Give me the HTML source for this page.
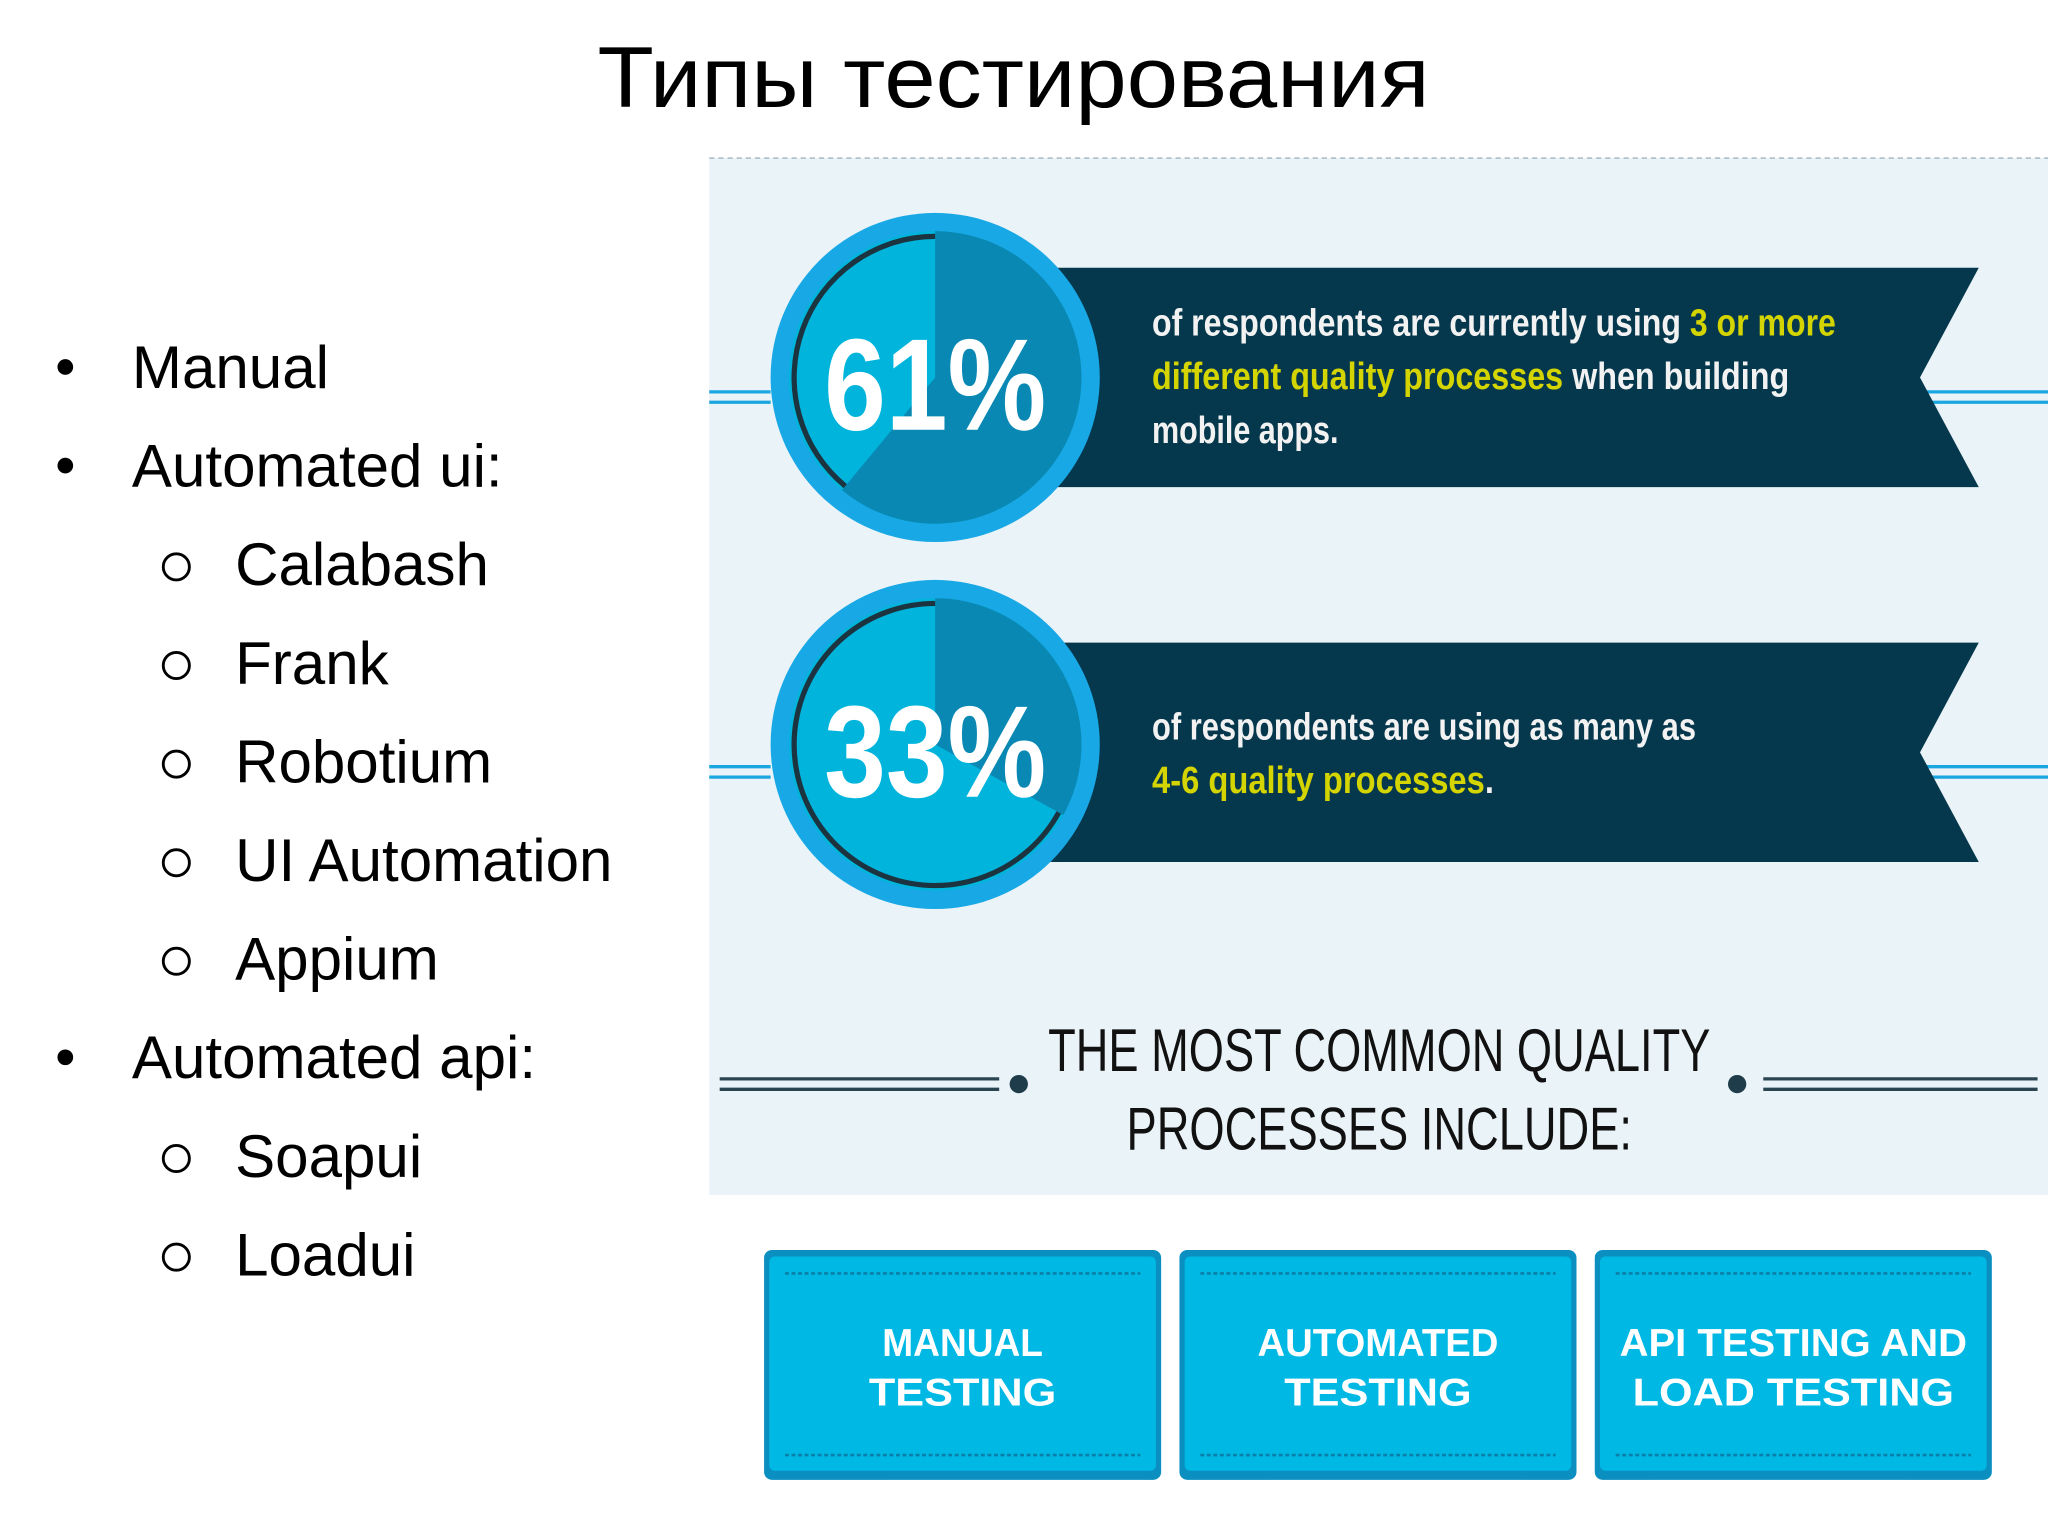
<!DOCTYPE html>
<html><head><meta charset="utf-8"><style>
html,body{margin:0;padding:0;background:#fff;}
svg{display:block;}
</style></head><body>
<svg id="s" width="2048" height="1536" viewBox="0 0 1568 1176" xmlns="http://www.w3.org/2000/svg" font-family="'Liberation Sans', sans-serif">
<rect width="1568" height="1176" fill="#fff"/>
<text x="776" y="82" font-size="66" text-anchor="middle" textLength="637" lengthAdjust="spacingAndGlyphs" fill="#000">Типы тестирования</text>

<g id="bullets" fill="#000" font-size="46"></g>

<rect x="543" y="121" width="1025" height="794" fill="#eaf3f8"/>
<line x1="543" y1="121" x2="1568" y2="121" stroke="#9fb3bf" stroke-width="1" stroke-dasharray="4 3"/>

<g id="stats"></g>

<g>
<line x1="551" y1="826" x2="765" y2="826" stroke="#2a4452" stroke-width="2.5"/>
<line x1="551" y1="834" x2="765" y2="834" stroke="#2a4452" stroke-width="2.5"/>
<line x1="1350" y1="826" x2="1560" y2="826" stroke="#2a4452" stroke-width="2.5"/>
<line x1="1350" y1="834" x2="1560" y2="834" stroke="#2a4452" stroke-width="2.5"/>
<circle cx="780" cy="830" r="7" fill="#1f3c4b"/>
<circle cx="1330" cy="830" r="7" fill="#1f3c4b"/>
<text x="1056" y="820" font-size="46" text-anchor="middle" textLength="507" lengthAdjust="spacingAndGlyphs" fill="#111">THE MOST COMMON QUALITY</text>
<text x="1056" y="880" font-size="46" text-anchor="middle" textLength="387" lengthAdjust="spacingAndGlyphs" fill="#111">PROCESSES INCLUDE:</text>
</g>

<g id="boxes"></g>

<script>
const bulletItems = ["Manual","Automated ui:","Calabash","Frank","Robotium","UI Automation","Appium","Automated api:","Soapui","Loadui"];
const bulletLevels = [0,0,1,1,1,1,1,0,1,1];
const statValues = [61, 33];
const statLines = [
  [[["of respondents are currently using ",0],["3 or more",1]],[["different quality processes",1],[" when building",0]],[["mobile apps.",0]]],
  [[["of respondents are using as many as",0]],[["4-6 quality processes",1],[".",0]]]
];
const boxLabels = [["MANUAL","TESTING"],["AUTOMATED","TESTING"],["API TESTING AND","LOAD TESTING"]];
const NS="http://www.w3.org/2000/svg";
function mk(tag,attrs,parent){const e=document.createElementNS(NS,tag);for(const k in attrs)e.setAttribute(k,attrs[k]);parent.appendChild(e);return e;}

const bg=document.getElementById('bullets');
bulletItems.forEach((t,i)=>{
  const y=297+i*75.5;
  if(bulletLevels[i]===0){
    const d=mk('circle',{cx:50,cy:y-16,r:6,fill:'#000'},bg);
    
    
    const tx=mk('text',{x:101,y:y},bg);tx.textContent=t;
    
    
  } else {
    const d=mk('circle',{cx:135,cy:y-14,r:10,fill:'none',stroke:'#000','stroke-width':2.2},bg);
    
    
    const tx=mk('text',{x:180,y:y},bg);tx.textContent=t;
    
    
  }
});

const sg=document.getElementById('stats');
const cys=[289,570];
const ribShift=[0,6];
statValues.forEach((v,i)=>{
  const cy=cys[i], cx=716, ry=cy+ribShift[i];
  const g=mk('g',{},sg);
  
  
  [[543,590],[1475,1568]].forEach(([a,b])=>{
    mk('line',{x1:a,y1:ry+11,x2:b,y2:ry+11,stroke:'#1aa6e0','stroke-width':2.5},g);
    mk('line',{x1:a,y1:ry+19,x2:b,y2:ry+19,stroke:'#1aa6e0','stroke-width':2.5},g);
  });
  const rib=mk('polygon',{points:`790,${ry-84} 1515,${ry-84} 1470,${ry} 1515,${ry+84} 790,${ry+84}`,fill:'#06384d'},g);
  
  
  mk('circle',{cx:cx,cy:cy,r:126,fill:'#19a8e6'},g);
  mk('circle',{cx:cx,cy:cy,r:112,fill:'#00b4dc'},g);
  const r=112, a=v/100*2*Math.PI;
  const ex=cx+r*Math.sin(a), ey=cy-r*Math.cos(a);
  const w=mk('path',{d:`M${cx},${cy} L${cx},${cy-r} A${r},${r} 0 ${a>Math.PI?1:0} 1 ${ex},${ey} Z`,fill:'#0a88b4'},g);
  
  
  const rr=108, ex2=cx+rr*Math.sin(a), ey2=cy-rr*Math.cos(a);
  mk('path',{d:`M${ex2},${ey2} A${rr},${rr} 0 ${a>Math.PI?0:1} 1 ${cx},${cy-rr}`,fill:'none',stroke:'#1c3440','stroke-width':4},g);
  const pt=mk('text',{x:cx,y:cy+40,'font-size':100,'font-weight':'bold','text-anchor':'middle',fill:'#fff',textLength:170,lengthAdjust:'spacingAndGlyphs'},g);
  pt.textContent=v+'%';
  
  
  const lines=statLines[i];
  const base = lines.length===3 ? ry-32 : ry-10;
  lines.forEach((ln,j)=>{
    const t=mk('text',{x:882,y:base+j*41,'font-size':29,'font-weight':'bold',fill:'#fff'},g);
    
    
    let total=0;
    ln.forEach(([s,h])=>{const ts=mk('tspan',{fill:h?'#d4d400':'#f2f2f2'},t);ts.textContent=s;total+=s.length;});
    t.setAttribute('textLength', total*11.9);
    t.setAttribute('lengthAdjust','spacingAndGlyphs');
  });
});

const bx=document.getElementById('boxes');
boxLabels.forEach((lb,i)=>{
  const x=585+i*318, y=957, w=304, h=176;
  const g=mk('g',{},bx);
  
  
  mk('rect',{x:x,y:y,width:w,height:h,rx:6,fill:'#0a8fc0'},g);
  mk('rect',{x:x+4,y:y+5,width:w-8,height:h-12,rx:4,fill:'#00b8e4'},g);
  mk('line',{x1:x+16,y1:y+18,x2:x+w-16,y2:y+18,stroke:'#0a7fa8','stroke-width':2,'stroke-dasharray':'3 2'},g);
  mk('line',{x1:x+16,y1:y+157,x2:x+w-16,y2:y+157,stroke:'#0a7fa8','stroke-width':2,'stroke-dasharray':'3 2'},g);
  lb.forEach((s,j)=>{
    const t=mk('text',{x:x+w/2,y:y+81+j*38,'font-size':30,'font-weight':'bold','text-anchor':'middle',fill:'#fff',textLength:Math.min(s.length*20.5,266),lengthAdjust:'spacingAndGlyphs'},g);
    t.textContent=s;
    
    
  });
});
</script>
</svg>
</body></html>
